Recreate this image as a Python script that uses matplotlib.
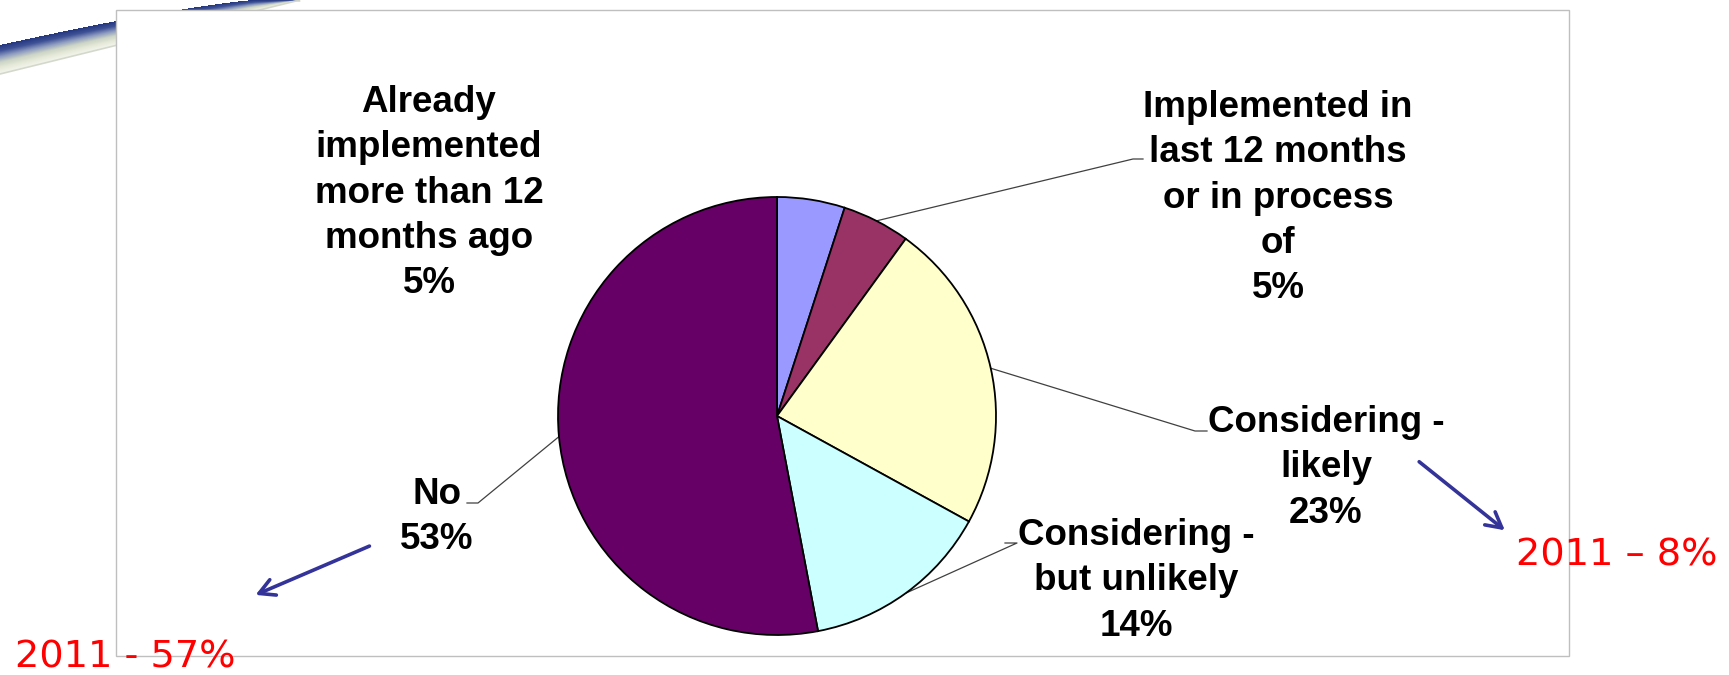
import numpy as np
import matplotlib.pyplot as plt
from matplotlib.patches import Rectangle
from matplotlib.colors import LinearSegmentedColormap

# survey answers, clockwise from 12 o'clock
labels = ["Already\nimplemented\nmore than 12\nmonths ago",
          "Implemented in\nlast 12 months\nor in process\nof",
          "Considering -\nlikely",
          "Considering -\nbut unlikely",
          "No"]
values = [5, 5, 23, 14, 53]
colors = ["#9999FF", "#993366", "#FFFFCC", "#CCFFFF", "#660066"]

# 2011 comparison notes
notes_2011 = ["2011 \u2013 8%", "2011 - 57%"]

W, H = 1729, 675
fig = plt.figure(figsize=(W / 100, H / 100), dpi=100)
fig.patch.set_facecolor("white")

# overlay in pixel coordinates (y down) for frame, leaders, arrows, notes
ov = fig.add_axes([0, 0, 1, 1])
ov.set_xlim(0, W)
ov.set_ylim(H, 0)
ov.axis("off")

# decorative swoosh in the top-left corner (slide background), as an image
sw_w, sw_h = 300, 80
gx, gy = np.meshgrid(np.arange(sw_w) + 0.5, np.arange(sw_h) + 0.5)
top = np.where(gx < 255, 45 * np.clip(1 - gx / 255, 0, None) ** 1.25, 0)
bot = np.clip(74 * (1 - gx / 300), 1, None)
t = (gy - top) / (bot - top)
swoosh = LinearSegmentedColormap.from_list(
    "sw", ["#24367f", "#3f5296", "#8d9bc0", "#cdd5c6", "#e6ead9", "#f4f6ee"])
img = swoosh(np.clip(t, 0, 1))
img[..., 3] = ((t >= 0) & (t <= 1)).astype(float)
ov.imshow(img, extent=(0, sw_w, sw_h, 0), interpolation="bilinear", zorder=1)
ov.plot(gx[0], bot[0], color="#d4d8cc", lw=1.2, zorder=1)
ov.set_xlim(0, W)
ov.set_ylim(H, 0)
ov.set_aspect("auto")

# chart frame
ov.add_patch(Rectangle((116, 10), 1569 - 116, 656 - 10, facecolor="white",
                       edgecolor="#bfbfbf", lw=1.0, zorder=2))

# pie
cx, cy, r = 777, 416, 219
ax = fig.add_axes([(cx - r) / W, (H - cy - r) / H, 2 * r / W, 2 * r / H])
wedges, _ = ax.pie(values, colors=colors, startangle=90, counterclock=False,
                   wedgeprops=dict(edgecolor="black", linewidth=1.3))
ax.set_xlim(-1, 1)
ax.set_ylim(-1, 1)
ax.axis("off")

label_font = dict(family=["Liberation Sans", "DejaVu Sans"], fontsize=26.5,
                  fontweight="bold", ha="center", va="top",
                  multialignment="center", linespacing=1.38, zorder=3)

# label text placement (centre x, top y) and leader elbows
label_pos = [(429, 85), (1278, 90), (1326, 405), (1136, 518), (437, 477)]
elbows = [None, ((1133, 159), (1143, 159)), ((1195, 431), (1207, 431)),
          ((1017, 543), (1005, 543)), ((478, 503), (467, 503))]

for w, lab, v, pos, elb in zip(wedges, labels, values, label_pos, elbows):
    ov.text(pos[0], pos[1], f"{lab}\n{v}%", **label_font)
    if elb is None:
        continue
    mid = np.deg2rad((w.theta1 + w.theta2) / 2)
    px, py = ax.transData.transform((np.cos(mid), np.sin(mid)))
    sx, sy = px, H - py
    ov.plot([sx, elb[0][0], elb[1][0]], [sy, elb[0][1], elb[1][1]],
            color="#404040", lw=0.9, zorder=3)

# blue arrows to the 2011 figures
arrow_kw = dict(arrowstyle="->,head_length=1.1,head_width=0.6",
                color="#333399", lw=2.6)
ov.annotate("", xy=(1507, 532), xytext=(1417, 460), arrowprops=arrow_kw,
            zorder=4)
ov.annotate("", xy=(253, 596), xytext=(372, 545), arrowprops=arrow_kw,
            zorder=4)

red_font = dict(family="DejaVu Sans", fontsize=27.5, color="#FF0000",
                va="baseline", ha="left", zorder=4)
ov.text(1516, 565, notes_2011[0], **red_font)
ov.text(15, 668, notes_2011[1], **red_font)

fig.savefig("out.png", dpi=100, facecolor="white")
